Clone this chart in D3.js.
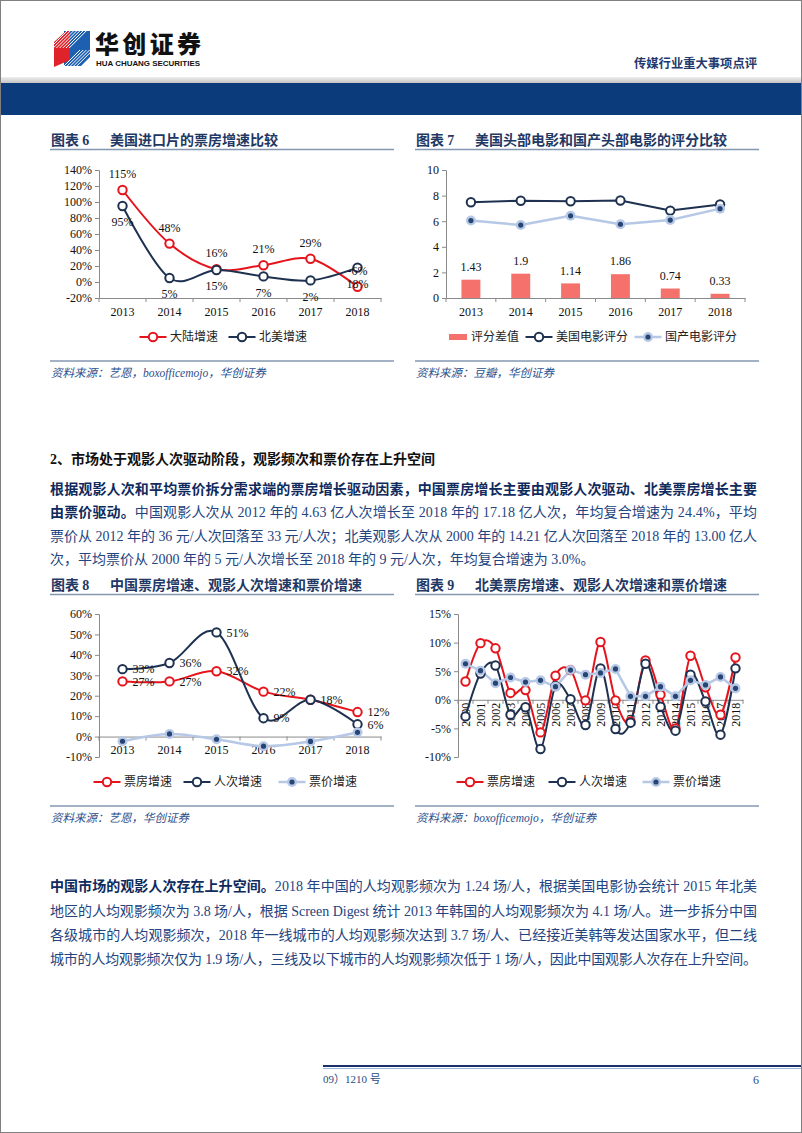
<!DOCTYPE html>
<html><head><meta charset="utf-8">
<script src="https://cdn.jsdelivr.net/npm/d3@7"></script>
<style>body{margin:0;background:#fff} svg{display:block}</style>
</head><body>
<svg id="page" width="802" height="1133"></svg>
<script>
// ---------------- DATA ----------------
const years6 = ["2013","2014","2015","2016","2017","2018"];
const mainlandGrowth = [115,48,16,21,29,-6];
const naGrowth = [95,5,15,7,2,18];
const ticks6 = [-20,0,20,40,60,80,100,120,140];

const years7 = ["2013","2014","2015","2016","2017","2018"];
const scoreDiff = [1.43,1.9,1.14,1.86,0.74,0.33];
const usScore = [7.48,7.6,7.56,7.62,6.83,7.31];
const cnScore = [6.05,5.7,6.42,5.76,6.09,6.98];
const ticks7 = [0,2,4,6,8,10];

const years8 = ["2013","2014","2015","2016","2017","2018"];
const boxGrowth8 = [27,27,32,22,18,12];
const admGrowth8 = [33,36,51,9,18,6];
const priceGrowth8 = [-2.3,1.3,-1.3,-4.7,-2.4,2.1];
const ticks8 = [-10,0,10,20,30,40,50,60];

const years9 = ["2000","2001","2002","2003","2004","2005","2006","2007","2008","2009","2010","2011","2012","2013","2014","2015","2016","2017","2018"];
const boxGrowth9 = [3.2,9.9,9.0,1.2,1.7,-5.7,4.2,5.2,-0.1,10.1,-0.1,-3.8,6.9,0.9,-5.0,7.7,2.2,-2.6,7.4];
const admGrowth9 = [-2.9,4.6,6.0,-2.6,-1.3,-8.6,2.4,0.1,-4.4,5.5,-5.1,-4.0,6.3,-1.2,-5.4,4.4,-0.3,-6.1,5.5];
const priceGrowth9 = [6.3,5.1,2.9,3.9,3.1,3.4,2.3,5.2,4.4,4.7,5.4,0.6,0.6,2.3,0.6,3.4,2.6,4.0,2.0];
const ticks9 = [-10,-5,0,5,10,15];

// ---------------- STYLE ----------------
const svg = d3.select("#page");
const SERIF = "'Liberation Serif','Times New Roman','Noto Sans CJK SC',serif";
const CJK = "'Noto Sans CJK SC','Liberation Serif',sans-serif";
const NAVY = "#1e3150", RED = "#e5141c", LBLUE = "#b6c8e6", DOT = "#274572", AXIS = "#8a8a8a";
const BAR = "#f4716c", TITLE = "#1f3864", RULE = "#8497b0", SRC = "#2c4f8c";

// page frame
svg.append("rect").attr("x",0.5).attr("y",0.5).attr("width",801).attr("height",1132)
  .attr("fill","#fff").attr("stroke","#808080");

// ---------------- HEADER ----------------
const hdr = svg.append("g");
const defs = svg.append("defs");
const gg = defs.append("linearGradient").attr("id","grayband").attr("x1",0).attr("y1",0).attr("x2",0).attr("y2",1);
gg.append("stop").attr("offset","0").attr("stop-color","#eeeeee");
gg.append("stop").attr("offset","1").attr("stop-color","#c4c4c4");
hdr.append("rect").attr("x",1).attr("y",77).attr("width",800).attr("height",6).attr("fill","url(#grayband)");
hdr.append("rect").attr("x",1).attr("y",83).attr("width",800).attr("height",32).attr("fill","#0b3b7b");
// logo
const logo = hdr.append("g");
logo.append("path").attr("d","M64,31 L90,31 L90,57 L81,66 L64,66 Z").attr("fill","#1d5fb0");
logo.append("path").attr("d","M54,42 L66,31 L70,31 L70,60 L54,67 Z").attr("fill","#e0222a");
const clip = defs.append("clipPath").attr("id","logoclip");
clip.append("path").attr("d","M54,42 L66,31 L90,31 L90,57 L81,66 L54,67 Z");
const stripes = logo.append("g").attr("clip-path","url(#logoclip)");
[0,1,2,3,4,5,6].forEach(k=>{
  stripes.append("line").attr("x1",50+k*3.2).attr("y1",48).attr("x2",68+k*3.2).attr("y2",30)
    .attr("stroke","#fff").attr("stroke-width",1);
});
[0,1,2,3,4].forEach(k=>{
  stripes.append("line").attr("x1",60+k*3.2).attr("y1",70).attr("x2",80+k*3.2).attr("y2",50)
    .attr("stroke","#fff").attr("stroke-width",1);
});
hdr.append("text").attr("x",95).attr("y",53).attr("font-family",CJK).attr("font-weight",900)
  .attr("font-size",24).attr("fill","#111").attr("textLength",106).text("华创证券");
hdr.append("text").attr("x",96).attr("y",65.5).attr("font-family","'Liberation Sans',Arial,sans-serif").attr("font-weight",700)
  .attr("font-size",7).attr("fill","#111").attr("textLength",104).attr("lengthAdjust","spacingAndGlyphs").text("HUA CHUANG SECURITIES");
hdr.append("text").attr("x",634).attr("y",67.5).attr("font-family",CJK).attr("font-weight",700)
  .attr("font-size",12.3).attr("fill","#1f3a6e").text("传媒行业重大事项点评");

// ---------------- FRAMES ----------------
function frame(x, num, title, yTitle, yBottom, source){
  const g = svg.append("g");
  const t = g.append("text").attr("x",x+1).attr("y",yTitle+5).attr("font-family",SERIF)
    .attr("font-weight",700).attr("font-size",14).attr("fill",TITLE);
  t.append("tspan").attr("font-family",CJK).text("图表 ");
  t.append("tspan").text(num);
  t.append("tspan").attr("x",x+60).attr("font-family",CJK).text(title);
  g.append("line").attr("x1",x).attr("x2",x+344).attr("y1",yTitle+9.5).attr("y2",yTitle+9.5)
    .attr("stroke",RULE).attr("stroke-width",1.5);
  g.append("line").attr("x1",x).attr("x2",x+344).attr("y1",yBottom).attr("y2",yBottom)
    .attr("stroke",RULE).attr("stroke-width",1.5);
  const s = g.append("text").attr("x",x+1).attr("y",yBottom+16).attr("font-family",SERIF)
    .attr("font-style","italic").attr("font-size",11.5).attr("fill",SRC);
  source.forEach(p=>s.append("tspan").attr("font-family",p.latin?SERIF:CJK).text(p.t));
}
frame(50,"6","美国进口片的票房增速比较",140,361,[{t:"资料来源：艺恩，"},{t:"boxofficemojo",latin:true},{t:"，华创证券"}]);
frame(415,"7","美国头部电影和国产头部电影的评分比较",140,361,[{t:"资料来源：豆瓣，华创证券"}]);
frame(50,"8","中国票房增速、观影人次增速和票价增速",585,806,[{t:"资料来源：艺恩，华创证券"}]);
frame(415,"9","北美票房增速、观影人次增速和票价增速",585,806,[{t:"资料来源："},{t:"boxofficemojo",latin:true},{t:"，华创证券"}]);

// ---------------- CHART HELPERS ----------------
function marker(g, cx, cy, type, color){
  if(type==="open"){
    g.append("circle").attr("cx",cx).attr("cy",cy).attr("r",4.2).attr("fill","#fff")
      .attr("stroke",color).attr("stroke-width",2);
  } else if(type==="dot"){
    g.append("circle").attr("cx",cx).attr("cy",cy).attr("r",5).attr("fill",LBLUE);
    g.append("circle").attr("cx",cx).attr("cy",cy).attr("r",2.6).attr("fill",DOT);
  }
}
function styleAxis(a){
  a.select(".domain").attr("stroke",AXIS);
  a.selectAll(".tick line").attr("stroke",AXIS);
  a.selectAll(".tick text").attr("font-family",SERIF).attr("font-size",12).attr("fill","#111");
}
function chart(o){
  const g = svg.append("g");
  const x = d3.scaleBand().domain(o.cats).range([o.x0,o.x1]);
  const y = d3.scaleLinear().domain(o.domain).range([o.yBot,o.yTop]);
  const ya = g.append("g").attr("transform",`translate(${o.x0},0)`)
    .call(d3.axisLeft(y).tickValues(o.ticks).tickSize(4).tickPadding(3).tickFormat(o.fmt));
  styleAxis(ya);
  const yc = y(o.cross);
  const xa = g.append("g").attr("transform",`translate(0,${yc})`)
    .call(d3.axisBottom(x).tickSize(0).tickPadding(o.xPad));
  styleAxis(xa);
  xa.selectAll(".tick text").attr("font-size",o.xFont||12);
  if(o.rotate){
    xa.selectAll(".tick text").attr("transform","rotate(-90)").attr("text-anchor","end")
      .attr("x",-3).attr("y",0).attr("dy","0.35em");
  }
  const bounds = o.cats.map(c=>x(c)).concat([o.x1]);
  g.selectAll(null).data(bounds).enter().append("line")
    .attr("x1",d=>d).attr("x2",d=>d).attr("y1",yc).attr("y2",yc+4).attr("stroke",AXIS);
  const cx = c => x(c) + x.bandwidth()/2;
  if(o.bars){
    const xb = d3.scaleBand().domain(o.cats).range([o.x0,o.x1]).paddingInner(0.62).paddingOuter(0.31);
    g.selectAll(null).data(o.bars.values).enter().append("rect")
      .attr("x",(d,i)=>xb(o.cats[i])).attr("width",xb.bandwidth())
      .attr("y",d=>y(d)).attr("height",d=>y(0)-y(d)).attr("fill",o.bars.color);
    g.selectAll(null).data(o.bars.values).enter().append("text")
      .attr("x",(d,i)=>cx(o.cats[i])).attr("y",d=>y(d)-13).attr("dy","0.35em")
      .attr("text-anchor","middle").attr("font-family",SERIF).attr("font-size",12).attr("fill","#111")
      .text(d=>d);
  }
  o.series.forEach(s=>{
    const line = d3.line().x((d,i)=>cx(o.cats[i])).y(d=>y(d))
      .curve(s.smooth ? d3.curveCardinal.tension(0) : d3.curveLinear);
    g.append("path").datum(s.values).attr("d",line).attr("fill","none")
      .attr("stroke",s.color).attr("stroke-width",s.width||2).attr("stroke-linejoin","round");
  });
  o.series.forEach(s=>{
    const mg = g.append("g");
    s.values.forEach((v,i)=>marker(mg,cx(o.cats[i]),y(v),s.marker,s.color));
  });
  const placed = new Set();
  o.series.forEach(s=>{
    if(!s.labels) return;
    s.values.forEach((v,i)=>{
      let lx = cx(o.cats[i]), ly = y(v), anchor="middle";
      if(s.labels==="above") ly -= 16;
      else if(s.labels==="below") ly += 16;
      else if(s.labels==="right"){ lx += 10; anchor="start"; }
      const key = Math.round(lx)+"_"+Math.round(ly)+"_"+v;
      if(placed.has(key)) return;   // identical label at the same spot (coinciding points)
      placed.add(key);
      g.append("text").attr("x",lx).attr("y",ly).attr("dy","0.35em").attr("text-anchor",anchor)
        .attr("font-family",SERIF).attr("font-size",12).attr("fill","#111").text(v+"%");
    });
  });
  o.legend.forEach(l=>{
    const ly = o.legendY;
    if(l.type==="bar"){
      g.append("rect").attr("x",l.x-9).attr("y",ly-3).attr("width",18).attr("height",6).attr("fill",l.color);
      g.append("text").attr("x",l.x+13).attr("y",ly).attr("dy","0.35em").attr("font-family",CJK)
        .attr("font-size",12).attr("fill","#222").text(l.label);
    } else {
      g.append("line").attr("x1",l.x-13.5).attr("x2",l.x+13.5).attr("y1",ly).attr("y2",ly)
        .attr("stroke",l.color).attr("stroke-width",l.width||2);
      marker(g,l.x,ly,l.marker,l.color);
      g.append("text").attr("x",l.x+17).attr("y",ly).attr("dy","0.35em").attr("font-family",CJK)
        .attr("font-size",12).attr("fill","#222").text(l.label);
    }
  });
}

// ---------------- CHARTS ----------------
chart({cats:years6,x0:99,x1:381,yTop:170,yBot:298,domain:[-20,140],ticks:ticks6,fmt:d=>d+"%",
  cross:-20,xPad:9,
  series:[
    {values:mainlandGrowth,color:RED,marker:"open",smooth:true,labels:"above"},
    {values:naGrowth,color:NAVY,marker:"open",smooth:true,labels:"below"}],
  legendY:337,
  legend:[{label:"大陆增速",color:RED,marker:"open",x:153},{label:"北美增速",color:NAVY,marker:"open",x:242}]
});

chart({cats:years7,x0:446,x1:745,yTop:170,yBot:298,domain:[0,10],ticks:ticks7,fmt:d=>d,
  cross:0,xPad:9,
  bars:{values:scoreDiff,color:BAR},
  series:[
    {values:usScore,color:NAVY,marker:"open",smooth:false},
    {values:cnScore,color:LBLUE,marker:"dot",smooth:false,width:2.5}],
  legendY:337,
  legend:[{type:"bar",label:"评分差值",color:BAR,x:458},
          {label:"美国电影评分",color:NAVY,marker:"open",x:539},
          {label:"国产电影评分",color:LBLUE,marker:"dot",x:648,width:2.5}]
});

chart({cats:years8,x0:99,x1:381,yTop:614,yBot:757,domain:[-10,60],ticks:ticks8,fmt:d=>d+"%",
  cross:0,xPad:9,
  series:[
    {values:boxGrowth8,color:RED,marker:"open",smooth:true,labels:"right"},
    {values:admGrowth8,color:NAVY,marker:"open",smooth:true,labels:"right"},
    {values:priceGrowth8,color:LBLUE,marker:"dot",smooth:true,width:2.5}],
  legendY:782,
  legend:[{label:"票房增速",color:RED,marker:"open",x:107},
          {label:"人次增速",color:NAVY,marker:"open",x:197},
          {label:"票价增速",color:LBLUE,marker:"dot",x:292,width:2.5}]
});

chart({cats:years9,x0:458,x1:743,yTop:614,yBot:757,domain:[-10,15],ticks:ticks9,fmt:d=>d+"%",
  cross:0,xPad:3,rotate:true,xFont:12,
  series:[
    {values:boxGrowth9,color:RED,marker:"open",smooth:true},
    {values:admGrowth9,color:NAVY,marker:"open",smooth:true},
    {values:priceGrowth9,color:LBLUE,marker:"dot",smooth:false,width:2.5}],
  legendY:782,
  legend:[{label:"票房增速",color:RED,marker:"open",x:470},
          {label:"人次增速",color:NAVY,marker:"open",x:562},
          {label:"票价增速",color:LBLUE,marker:"dot",x:656,width:2.5}]
});

// ---------------- BODY TEXT ----------------
const BOLDC = "#0f2a5c", REGC = "#244480";
function textLine(y, segs, justify){
  const t = svg.append("text").attr("x",50).attr("y",y).attr("font-size",14).attr("font-family",SERIF);
  if(justify) t.attr("textLength",707).attr("lengthAdjust","spacing");
  segs.forEach(s=>{
    t.append("tspan").attr("font-weight",s.b?700:400).attr("fill",s.c||(s.b?BOLDC:REGC)).text(s.t);
  });
}
textLine(464,[{t:"2、市场处于观影人次驱动阶段，观影频次和票价存在上升空间",b:true,c:"#111"}],false);
textLine(494,[{t:"根据观影人次和平均票价拆分需求端的票房增长驱动因素，中国票房增长主要由观影人次驱动、北美票房增长主要",b:true}],true);
textLine(517,[{t:"由票价驱动。",b:true},{t:"中国观影人次从 2012 年的 4.63 亿人次增长至 2018 年的 17.18 亿人次，年均复合增速为 24.4%，平均"}],true);
textLine(541,[{t:"票价从 2012 年的 36 元/人次回落至 33 元/人次；北美观影人次从 2000 年的 14.21 亿人次回落至 2018 年的 13.00 亿人"}],true);
textLine(564,[{t:"次，平均票价从 2000 年的 5 元/人次增长至 2018 年的 9 元/人次，年均复合增速为 3.0%。"}],false);

textLine(891,[{t:"中国市场的观影人次存在上升空间。",b:true},{t:"2018 年中国的人均观影频次为 1.24 场/人，根据美国电影协会统计 2015 年北美"}],true);
textLine(916,[{t:"地区的人均观影频次为 3.8 场/人，根据 Screen Digest 统计 2013 年韩国的人均观影频次为 4.1 场/人。进一步拆分中国"}],true);
textLine(940,[{t:"各级城市的人均观影频次，2018 年一线城市的人均观影频次达到 3.7 场/人、已经接近美韩等发达国家水平，但二线"}],true);
textLine(964,[{t:"城市的人均观影频次仅为 1.9 场/人，三线及以下城市的人均观影频次低于 1 场/人，因此中国观影人次存在上升空间。"}],true);

// ---------------- FOOTER ----------------
svg.append("line").attr("x1",323).attr("x2",801).attr("y1",1066).attr("y2",1066).attr("stroke","#1b2f6b").attr("stroke-width",2);
svg.append("line").attr("x1",323).attr("x2",801).attr("y1",1068.5).attr("y2",1068.5).attr("stroke","#9fb6dd").attr("stroke-width",1);
svg.append("text").attr("x",323).attr("y",1083).attr("font-family",SERIF).attr("font-size",11).attr("fill","#2c4a7e").text("09）1210 号");
svg.append("text").attr("x",753).attr("y",1084).attr("font-family",SERIF).attr("font-size",12).attr("fill","#2c4a7e").text("6");
</script>
</body></html>
